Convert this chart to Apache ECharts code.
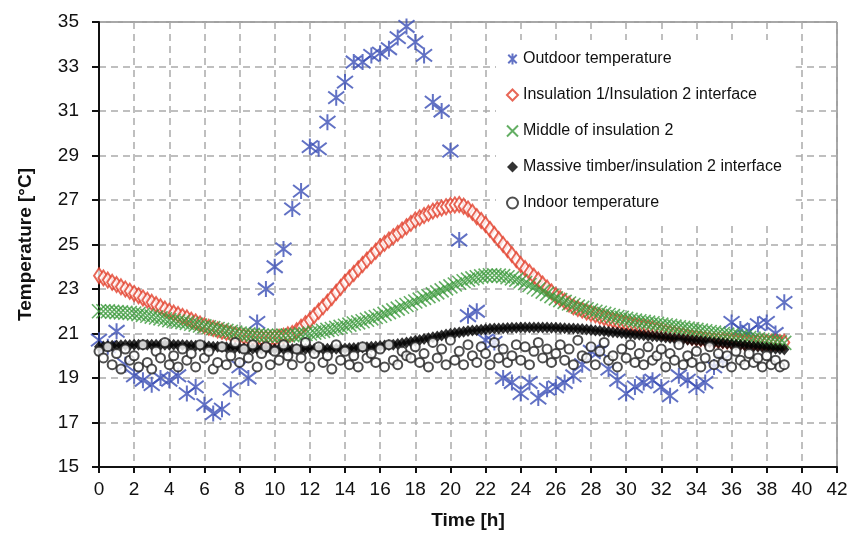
<!DOCTYPE html>
<html>
<head>
<meta charset="utf-8">
<script src="https://cdn.jsdelivr.net/npm/echarts@6/dist/echarts.min.js"></script>
<style>
html,body{margin:0;padding:0;background:#fff;}
#chart{width:853px;height:535px;}
</style>
</head>
<body>
<div id="chart"></div>
<script>
// outdoor temperature, one reading every 0.5 h
var outdoorStep = 0.5;
var outdoor = [
	20.7, 20.4, 21.1, 19.6, 19.1, 18.9, 18.7, 19.0, 18.9, 19.1,
	18.3, 18.6, 17.8, 17.4, 17.6, 18.5, 19.5, 19.0, 21.5, 23.0,
	24.0, 24.8, 26.6, 27.4, 29.4, 29.3, 30.5, 31.6, 32.3, 33.2,
	33.2, 33.5, 33.6, 33.8, 34.3, 34.8, 34.1, 33.5, 31.4, 31.0,
	29.2, 25.2, 21.8, 22.0, 20.7, 20.6, 19.0, 18.8, 18.3, 18.8,
	18.1, 18.5, 18.6, 18.8, 19.1, 19.6, 20.2, 20.2, 19.4, 18.9,
	18.3, 18.6, 18.8, 18.9, 18.6, 18.2, 19.1, 18.9, 18.6, 18.8,
	19.5, 19.8, 21.5, 21.2, 21.1, 21.4, 21.5, 21.0, 22.4
];

// wall sensors + indoor, one reading every 0.25 h
var sensorStep = 0.25;
var interface1 = [
	23.6, 23.5, 23.4, 23.3, 23.2, 23.1, 23.0, 22.9,
	22.8, 22.7, 22.6, 22.5, 22.4, 22.3, 22.2, 22.1,
	22.0, 21.92, 21.85, 21.77, 21.7, 21.6, 21.52, 21.43,
	21.35, 21.28, 21.22, 21.16, 21.1, 21.05, 21.0, 20.95,
	20.9, 20.87, 20.84, 20.82, 20.8, 20.79, 20.78, 20.78,
	20.8, 20.83, 20.88, 20.94, 21.0, 21.12, 21.28, 21.44,
	21.6, 21.8, 22.0, 22.2, 22.4, 22.62, 22.85, 23.07,
	23.3, 23.5, 23.7, 23.9, 24.1, 24.3, 24.5, 24.7,
	24.9, 25.05, 25.2, 25.35, 25.5, 25.65, 25.8, 25.95,
	26.1, 26.2, 26.3, 26.4, 26.5, 26.57, 26.64, 26.7,
	26.75, 26.78, 26.8, 26.72, 26.6, 26.45, 26.25, 26.08,
	25.9, 25.68, 25.45, 25.22, 25.0, 24.78, 24.55, 24.32,
	24.1, 23.92, 23.75, 23.57, 23.4, 23.22, 23.05, 22.87,
	22.7, 22.57, 22.45, 22.32, 22.2, 22.12, 22.05, 21.97,
	21.9, 21.84, 21.77, 21.71, 21.65, 21.6, 21.55, 21.5,
	21.45, 21.41, 21.37, 21.33, 21.3, 21.25, 21.2, 21.15,
	21.1, 21.06, 21.02, 20.98, 20.95, 20.91, 20.87, 20.83,
	20.8, 20.78, 20.75, 20.73, 20.7, 20.69, 20.68, 20.66,
	20.65, 20.64, 20.62, 20.61, 20.6, 20.6, 20.6, 20.6,
	20.6, 20.6, 20.6, 20.6, 20.6
];
var middle2 = [
	22.0, 22.0, 22.0, 21.98, 21.96, 21.95, 21.93, 21.92,
	21.9, 21.87, 21.84, 21.8, 21.76, 21.72, 21.68, 21.64,
	21.6, 21.57, 21.54, 21.51, 21.48, 21.44, 21.4, 21.36,
	21.32, 21.28, 21.24, 21.2, 21.16, 21.12, 21.08, 21.04,
	21.0, 20.98, 20.96, 20.94, 20.92, 20.91, 20.9, 20.9,
	20.9, 20.9, 20.9, 20.91, 20.92, 20.94, 20.96, 20.98,
	21.0, 21.04, 21.08, 21.12, 21.16, 21.2, 21.25, 21.3,
	21.35, 21.4, 21.45, 21.5, 21.55, 21.62, 21.68, 21.74,
	21.8, 21.88, 21.96, 22.04, 22.12, 22.2, 22.28, 22.36,
	22.44, 22.52, 22.6, 22.68, 22.76, 22.85, 22.94, 23.03,
	23.12, 23.2, 23.28, 23.35, 23.42, 23.48, 23.53, 23.57,
	23.6, 23.62, 23.62, 23.6, 23.58, 23.53, 23.48, 23.42,
	23.35, 23.27, 23.18, 23.08, 22.98, 22.88, 22.78, 22.68,
	22.58, 22.5, 22.42, 22.35, 22.28, 22.21, 22.15, 22.09,
	22.03, 21.98, 21.93, 21.88, 21.83, 21.78, 21.74, 21.7,
	21.66, 21.62, 21.58, 21.55, 21.52, 21.49, 21.46, 21.43,
	21.4, 21.37, 21.34, 21.31, 21.28, 21.25, 21.22, 21.19,
	21.16, 21.13, 21.1, 21.07, 21.04, 21.01, 20.98, 20.95,
	20.92, 20.89, 20.86, 20.83, 20.8, 20.77, 20.74, 20.71,
	20.68, 20.65, 20.62, 20.6, 20.58
];
var timberInterface = [
	20.4, 20.42, 20.44, 20.45, 20.46, 20.47, 20.48, 20.48,
	20.49, 20.5, 20.5, 20.5, 20.5, 20.5, 20.5, 20.5,
	20.5, 20.49, 20.48, 20.48, 20.47, 20.46, 20.45, 20.44,
	20.43, 20.42, 20.41, 20.4, 20.39, 20.38, 20.37, 20.36,
	20.35, 20.34, 20.33, 20.32, 20.32, 20.31, 20.3, 20.3,
	20.3, 20.3, 20.3, 20.3, 20.3, 20.3, 20.3, 20.3,
	20.3, 20.3, 20.3, 20.3, 20.31, 20.31, 20.32, 20.32,
	20.33, 20.34, 20.35, 20.36, 20.37, 20.38, 20.4, 20.42,
	20.44, 20.46, 20.48, 20.5, 20.53, 20.56, 20.59, 20.63,
	20.67, 20.71, 20.75, 20.79, 20.83, 20.87, 20.91, 20.95,
	20.99, 21.02, 21.05, 21.08, 21.11, 21.13, 21.15, 21.17,
	21.19, 21.21, 21.22, 21.23, 21.24, 21.25, 21.26, 21.26,
	21.27, 21.27, 21.27, 21.27, 21.27, 21.27, 21.27, 21.26,
	21.26, 21.25, 21.24, 21.23, 21.22, 21.21, 21.2, 21.18,
	21.16, 21.14, 21.12, 21.1, 21.08, 21.06, 21.04, 21.02,
	21.0, 20.98, 20.96, 20.94, 20.92, 20.9, 20.88, 20.86,
	20.84, 20.82, 20.8, 20.78, 20.76, 20.74, 20.72, 20.7,
	20.68, 20.66, 20.64, 20.62, 20.6, 20.58, 20.56, 20.54,
	20.52, 20.5, 20.48, 20.46, 20.44, 20.42, 20.4, 20.38,
	20.36, 20.34, 20.32, 20.3, 20.28
];
var indoor = [
	20.2, 19.9, 20.4, 19.6, 20.1, 19.4, 20.3, 19.8,
	20.0, 19.5, 20.5, 19.7, 19.4, 20.2, 19.9, 20.6,
	19.6, 20.0, 19.5, 20.3, 19.8, 20.1, 19.5, 20.5,
	19.9, 20.2, 19.4, 19.7, 20.4, 19.6, 20.0, 20.6,
	19.7, 20.3, 19.9, 20.5, 19.5, 20.1, 20.4, 19.6,
	20.2, 19.8, 20.5, 20.0, 19.6, 20.3, 19.9, 20.6,
	19.5, 20.1, 20.4, 19.7, 20.0, 19.4, 20.5, 19.8,
	20.2, 19.6, 20.0, 19.5, 20.4, 19.9, 20.1, 19.7,
	20.3, 19.5, 20.5, 19.8, 19.6, 20.2, 20.0, 19.9,
	20.4, 19.7, 20.1, 19.5, 20.6, 19.9, 20.3, 19.6,
	20.7, 19.8, 20.2, 19.6, 20.5, 20.0, 19.7, 20.4,
	20.1, 19.6, 20.6, 19.9, 20.3, 19.7, 20.0, 20.5,
	19.8, 20.4, 19.6, 20.2, 20.6, 19.9, 20.3, 19.7,
	20.1, 20.5, 19.8, 20.3, 19.6, 20.7, 20.0, 19.9,
	20.4, 19.6, 20.2, 20.6, 19.8, 20.0, 19.5, 20.3,
	19.9, 20.5, 19.7, 20.1, 19.6, 20.4, 19.8, 20.0,
	20.3, 19.5, 20.1, 19.8, 20.5, 19.6, 20.0, 19.7,
	20.2, 19.5, 19.9, 20.4, 19.6, 20.1, 19.7, 20.0,
	19.5, 20.2, 19.8, 19.6, 20.1, 19.7, 19.9, 19.5,
	20.0, 19.6, 19.8, 19.5, 19.6
];

var seriesNames = [
	'Outdoor temperature',
	'Insulation 1/Insulation 2 interface',
	'Middle of insulation 2',
	'Massive timber/insulation 2 interface',
	'Indoor temperature'
];

function pairs(values, step){
	return values.map(function(v, i){ return [i * step, v]; });
}

var asterisk = 'path://M0,0L10,10M10,0L0,10M5,-1.5L5,11.5';
var cross = 'path://M0,0L10,10M10,0L0,10';
var font = 'Liberation Sans, Arial, sans-serif';

var chart = echarts.init(document.getElementById('chart'));
var option = {
	backgroundColor: '#fff',
	animation: false,
	grid: {
		left: 99, right: 16, top: 22, bottom: 68,
		show: true, borderColor: '#444', borderWidth: 1
	},
	legend: {
		orient: 'vertical',
		left: 496, top: 40,
		backgroundColor: '#fff',
		padding: [10, 14, 12, 10],
		itemGap: 18,
		itemWidth: 11, itemHeight: 11,
		textStyle: {fontFamily: font, fontSize: 16, color: '#111', lineHeight: 18},
		data: seriesNames
	},
	xAxis: {
		type: 'value',
		min: 0, max: 42, interval: 2,
		name: 'Time [h]',
		nameLocation: 'middle',
		nameGap: 44,
		nameTextStyle: {fontFamily: font, fontSize: 19, fontWeight: 'bold', color: '#111'},
		axisLine: {lineStyle: {color: '#111', width: 2}},
		axisTick: {length: 6, lineStyle: {color: '#111', width: 2}},
		axisLabel: {fontFamily: font, fontSize: 19, color: '#111', margin: 13},
		splitLine: {lineStyle: {color: '#aaa', type: [7, 5], width: 1.5}}
	},
	yAxis: {
		type: 'value',
		min: 15, max: 35, interval: 2,
		name: 'Temperature [°C]',
		nameLocation: 'middle',
		nameGap: 64,
		nameTextStyle: {fontFamily: font, fontSize: 19, fontWeight: 'bold', color: '#111'},
		axisLine: {show: true, lineStyle: {color: '#111', width: 2}},
		axisTick: {show: true, length: 7, lineStyle: {color: '#111', width: 2}},
		axisLabel: {fontFamily: font, fontSize: 19, color: '#111', margin: 20},
		splitLine: {lineStyle: {color: '#aaa', type: [7, 5], width: 1.5}}
	},
	series: [
		{
			name: seriesNames[0],
			type: 'scatter',
			symbol: asterisk,
			symbolSize: 16,
			itemStyle: {color: 'transparent', borderColor: '#3a4db5', borderWidth: 2},
			data: pairs(outdoor, outdoorStep)
		},
		{
			name: seriesNames[1],
			type: 'scatter',
			symbol: 'emptyDiamond',
			symbolSize: [10, 15],
			itemStyle: {color: '#e2402c', borderWidth: 1.7},
			data: pairs(interface1, sensorStep)
		},
		{
			name: seriesNames[2],
			type: 'scatter',
			symbol: cross,
			symbolSize: 14,
			itemStyle: {color: 'transparent', borderColor: '#3c9a3c', borderWidth: 1.6},
			data: pairs(middle2, sensorStep)
		},
		{
			name: seriesNames[3],
			type: 'scatter',
			symbol: 'diamond',
			symbolSize: [10, 12],
			itemStyle: {color: '#000'},
			data: pairs(timberInterface, sensorStep)
		},
		{
			name: seriesNames[4],
			type: 'scatter',
			symbol: 'emptyCircle',
			symbolSize: 9,
			itemStyle: {color: '#222', borderWidth: 1.3},
			data: pairs(indoor, sensorStep)
		}
	]
};
chart.setOption(option);
</script>
</body>
</html>
